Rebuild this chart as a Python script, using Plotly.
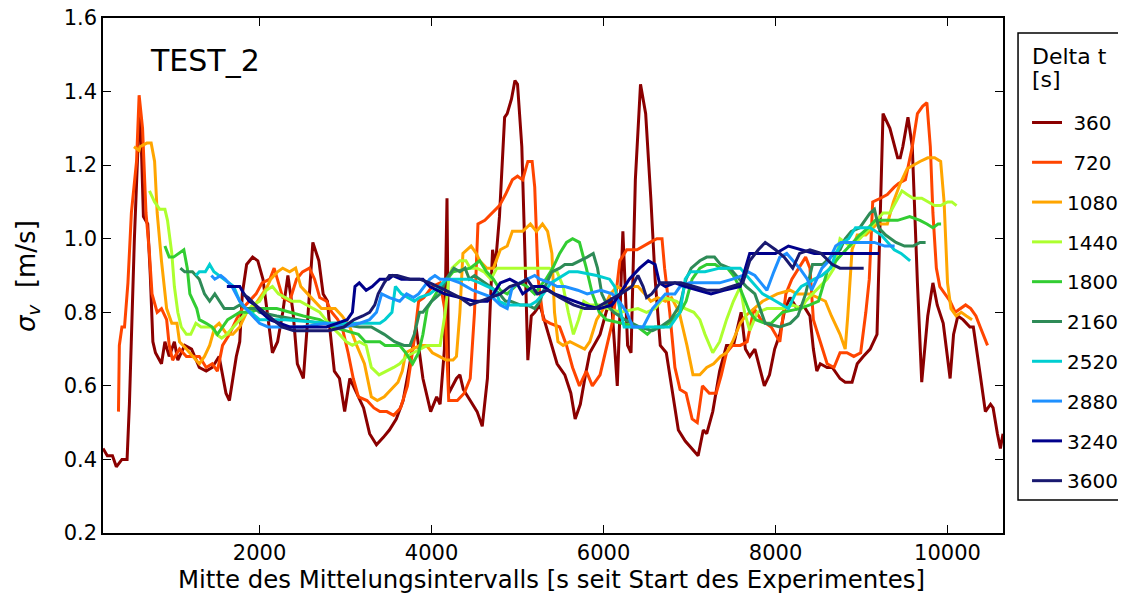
import plotly.graph_objects as go

# ---------------- data ----------------
deltas = [360, 720, 1080, 1440, 1800, 2160, 2520, 2880, 3240, 3600]
colors = ["#8B0000", "#FF4500", "#FFA500", "#ADFF2F", "#32CD32",
          "#2E8B57", "#00CED1", "#1E90FF", "#00008B", "#191970"]

x360 = [180,230,290,335,400,460,487,545,600,620,
        650,700,730,760,790,860,900,950,1010,1050,
        1130,1210,1300,1380,1450,1530,1610,1650,1690,1730,
        1770,1800,1850,1920,1980,2040,2090,2150,2210,2270,
        2330,2390,2440,2510,2560,2620,2690,2740,2790,2820,
        2870,2930,2990,3050,3130,3210,3280,3360,3440,3510,
        3590,3670,3740,3820,3900,3990,4060,4100,4150,4180,
        4200,4290,4330,4370,4450,4530,4590,4650,4680,4710,
        4740,4790,4850,4880,4930,4970,5000,5050,5085,5120,
        5160,5200,5260,5380,5460,5550,5620,5670,5730,5790,
        5840,5960,6030,6090,6160,6225,6280,6320,6370,6430,
        6490,6550,6600,6660,6730,6790,6870,6950,7020,7100,
        7160,7200,7270,7350,7430,7510,7600,7650,7700,7760,
        7870,7930,7990,8050,8110,8170,8250,8320,8400,8440,
        8480,8520,8600,8660,8750,8810,8890,8950,9020,9100,
        9180,9210,9250,9330,9420,9450,9480,9540,9590,9650,
        9700,9770,9830,9880,9950,10030,10070,10120,10180,10260,
        10300,10380,10440,10500,10530,10580,10615,10645]
y360 = [0.43,0.41,0.41,0.38,0.40,0.40,0.55,1.00,1.33,1.30,
        1.06,1.04,0.90,0.72,0.69,0.66,0.72,0.68,0.72,0.67,
        0.71,0.70,0.65,0.64,0.65,0.68,0.58,0.56,0.62,0.68,
        0.72,0.85,0.93,0.95,0.94,0.89,0.80,0.69,0.72,0.80,
        0.90,0.80,0.66,0.62,0.78,0.99,0.94,0.85,0.83,0.75,
        0.64,0.62,0.53,0.62,0.58,0.54,0.47,0.44,0.46,0.48,
        0.51,0.56,0.65,0.76,0.62,0.53,0.57,0.55,0.70,1.11,
        0.58,0.62,0.63,0.59,0.56,0.53,0.49,0.62,0.80,0.97,
        0.92,1.06,1.33,1.34,1.38,1.43,1.42,1.25,0.97,0.67,
        0.79,0.80,0.82,0.72,0.66,0.63,0.58,0.51,0.55,0.63,
        0.69,0.74,0.80,0.84,0.60,1.02,0.71,0.69,1.16,1.42,
        1.34,1.11,0.89,0.71,0.69,0.60,0.48,0.45,0.43,0.41,
        0.48,0.47,0.53,0.64,0.71,0.71,0.80,0.70,0.68,0.70,
        0.60,0.63,0.70,0.74,0.81,0.84,0.81,0.82,0.79,0.70,
        0.64,0.66,0.65,0.65,0.62,0.61,0.61,0.66,0.68,0.70,
        0.74,0.97,1.34,1.30,1.22,1.22,1.25,1.33,1.25,0.88,
        0.61,0.79,0.88,0.82,0.77,0.62,0.74,0.79,0.78,0.76,
        0.76,0.63,0.53,0.55,0.54,0.47,0.43,0.47]

x720 = [360,370,400,430,470,510,570,600,640,680,
        720,750,810,860,920,950,990,1070,1150,1300,
        1380,1450,1510,1570,1650,1730,1800,1880,1960,2030,
        2120,2170,2210,2270,2350,2430,2500,2580,2640,2700,
        2780,2840,2910,2970,3030,3090,3150,3250,3330,3400,
        3480,3560,3640,3720,3790,3850,3910,4010,4100,4160,
        4200,4300,4380,4450,4500,4540,4620,4700,4790,4860,
        4940,5000,5060,5120,5170,5200,5240,5300,5380,5490,
        5570,5640,5720,5800,5870,5960,6040,6110,6190,6270,
        6390,6460,6540,6620,6680,6710,6770,6830,6890,6960,
        7030,7090,7150,7230,7310,7370,7430,7500,7590,7670,
        7750,7830,7950,8050,8120,8190,8270,8350,8400,8440,
        8520,8600,8680,8750,8830,8910,8990,9050,9090,9130,
        9220,9300,9380,9430,9510,9590,9650,9710,9760,9800,
        9830,9870,9910,9970,10030,10090,10150,10210,10270,10330,
        10380,10465]
y720 = [0.53,0.71,0.76,0.76,0.88,1.07,1.21,1.39,1.30,1.07,
        0.96,0.85,0.80,0.81,0.78,0.71,0.67,0.70,0.68,0.68,
        0.65,0.66,0.64,0.71,0.74,0.78,0.81,0.83,0.85,0.88,
        0.89,0.92,0.89,0.84,0.83,0.89,0.91,0.92,0.89,0.84,
        0.83,0.80,0.78,0.75,0.69,0.62,0.57,0.56,0.54,0.53,
        0.53,0.52,0.54,0.60,0.71,0.83,0.84,0.87,0.88,0.80,
        0.56,0.56,0.58,0.62,0.80,1.04,1.05,1.07,1.09,1.12,
        1.16,1.17,1.16,1.21,1.21,1.14,0.89,0.78,0.77,0.76,
        0.71,0.65,0.60,0.64,0.60,0.63,0.71,0.78,0.94,0.97,
        0.97,0.98,0.99,1.00,1.00,0.92,0.80,0.65,0.59,0.58,
        0.51,0.50,0.60,0.58,0.58,0.63,0.69,0.71,0.71,0.72,
        0.81,0.78,0.76,0.72,0.85,0.89,0.92,0.95,0.92,0.78,
        0.72,0.66,0.65,0.69,0.69,0.68,0.69,0.80,0.89,1.10,
        1.11,1.12,1.14,1.15,1.16,1.25,1.34,1.36,1.37,1.25,
        1.07,0.92,0.87,0.85,0.83,0.80,0.81,0.82,0.81,0.79,
        0.76,0.71]

x1080 = [540,600,610,690,740,780,810,860,920,980,
         1040,1070,1150,1220,1300,1360,1420,1480,1530,1620,
         1690,1770,1850,1920,2000,2090,2130,2210,2270,2350,
         2420,2480,2560,2640,2720,2800,2880,2960,3050,3130,
         3220,3300,3370,3450,3530,3610,3660,3700,3780,3860,
         3940,4010,4090,4170,4250,4290,4330,4365,4460,4520,
         4560,4640,4720,4800,4880,4940,5000,5060,5150,5220,
         5290,5350,5400,5430,5470,5530,5610,5700,5780,5840,
         5920,6000,6080,6160,6240,6320,6400,6480,6550,6630,
         6720,6790,6880,6920,6970,7040,7120,7200,7280,7360,
         7430,7500,7590,7650,7850,8020,8170,8250,8400,8580,
         8650,8750,8810,8840,8890,8950,9050,9180,9300,9370,
         9450,9530,9600,9680,9770,9850,9920,9960,10000,10040,
         10100,10160,10220,10285]
y1080 = [1.25,1.24,1.25,1.26,1.26,1.21,1.07,0.94,0.81,0.77,
         0.77,0.72,0.70,0.68,0.66,0.68,0.71,0.76,0.77,0.74,
         0.74,0.76,0.80,0.81,0.84,0.87,0.89,0.91,0.92,0.91,
         0.92,0.87,0.85,0.83,0.81,0.81,0.81,0.79,0.76,0.71,
         0.66,0.57,0.56,0.57,0.59,0.61,0.64,0.69,0.70,0.71,
         0.71,0.69,0.68,0.67,0.67,0.68,0.80,0.96,0.98,0.96,
         0.94,0.92,0.92,0.97,0.98,1.02,1.02,1.02,1.04,1.02,
         1.04,1.02,0.96,0.80,0.72,0.71,0.72,0.71,0.70,0.72,
         0.78,0.81,0.85,0.87,0.86,0.87,0.87,0.85,0.83,0.84,
         0.83,0.84,0.80,0.76,0.71,0.63,0.63,0.65,0.66,0.68,
         0.69,0.72,0.77,0.79,0.83,0.85,0.86,0.85,0.85,0.83,
         0.79,0.74,0.70,0.79,0.97,1.01,1.01,1.04,1.04,1.10,
         1.15,1.19,1.20,1.21,1.22,1.22,1.21,1.10,0.88,0.81,
         0.79,0.80,0.79,0.78]

x1440 = [720,760,780,840,900,930,980,1010,1050,1090,
         1150,1200,1260,1320,1380,1440,1500,1560,1620,1690,
         1770,1850,1920,2000,2080,2150,2220,2300,2380,2470,
         2550,2620,2700,2770,2840,2930,3010,3080,3160,3240,
         3300,3390,3480,3560,3630,3710,3790,3870,3950,4030,
         4100,4160,4200,4240,4330,4400,4450,4530,4610,4690,
         4760,4850,5000,5150,5260,5370,5460,5530,5590,5650,
         5710,5770,5840,5950,6050,6200,6400,6500,6600,6700,
         6850,6950,7050,7120,7180,7270,7350,7430,7510,7590,
         7640,7700,7790,7900,8100,8200,8300,8350,8430,8520,
         8600,8680,8750,8870,8980,9100,9250,9330,9420,9470,
         9530,9600,9700,9780,9850,9920,10000,10050,10105]
y1440 = [1.13,1.11,1.10,1.08,1.08,1.05,0.96,0.87,0.80,0.76,
         0.74,0.74,0.77,0.76,0.76,0.76,0.74,0.73,0.74,0.76,
         0.78,0.80,0.82,0.83,0.86,0.87,0.85,0.84,0.83,0.83,
         0.82,0.81,0.80,0.78,0.76,0.74,0.72,0.71,0.72,0.71,
         0.65,0.63,0.64,0.65,0.66,0.68,0.69,0.70,0.71,0.71,
         0.71,0.80,0.89,0.92,0.94,0.94,0.92,0.92,0.91,0.89,
         0.92,0.92,0.92,0.92,0.92,0.92,0.91,0.87,0.80,0.74,
         0.78,0.83,0.82,0.82,0.81,0.80,0.81,0.80,0.81,0.84,
         0.83,0.81,0.80,0.78,0.74,0.69,0.72,0.78,0.83,0.87,
         0.80,0.75,0.80,0.81,0.81,0.82,0.81,0.83,0.85,0.87,
         0.89,0.92,1.00,0.98,1.00,1.03,1.07,1.07,1.11,1.13,
         1.12,1.11,1.11,1.10,1.09,1.09,1.10,1.10,1.09]

x1800 = [900,950,1000,1060,1120,1160,1190,1270,1300,1380,
         1450,1510,1570,1630,1700,1770,1900,2000,2200,2350,
         2510,2700,2850,3000,3150,3230,3300,3400,3460,3560,
         3630,3700,3780,3850,3900,3950,4100,4180,4250,4450,
         4560,4640,4720,4800,4880,4970,5030,5110,5200,5260,
         5330,5410,5490,5570,5640,5720,5800,5870,5950,6030,
         6200,6400,6510,6600,6700,6810,6890,6960,7030,7120,
         7200,7300,7360,7440,7510,7580,7700,7770,7880,7950,
         8080,8280,8400,8500,8600,8740,8860,8980,9080,9160,
         9280,9420,9560,9680,9760,9830,9890,9925]
y1800 = [0.98,0.95,0.95,0.96,0.97,0.92,0.85,0.81,0.78,0.77,
         0.76,0.74,0.76,0.78,0.79,0.80,0.80,0.81,0.81,0.80,
         0.79,0.78,0.76,0.75,0.74,0.72,0.72,0.72,0.71,0.71,
         0.71,0.69,0.66,0.69,0.74,0.81,0.87,0.89,0.91,0.92,
         0.94,0.91,0.89,0.86,0.85,0.87,0.88,0.87,0.85,0.87,
         0.89,0.92,0.96,0.99,1.00,0.99,0.92,0.85,0.80,0.78,
         0.77,0.76,0.74,0.76,0.76,0.78,0.80,0.83,0.89,0.92,
         0.93,0.93,0.92,0.92,0.90,0.87,0.80,0.78,0.77,0.77,
         0.80,0.81,0.82,0.83,0.91,0.95,0.98,1.01,1.03,1.05,
         1.05,1.05,1.06,1.05,1.04,1.03,1.04,1.04]

x2160 = [1080,1130,1220,1300,1360,1420,1480,1530,1590,1700,
         1770,1850,1950,2000,2200,2450,2700,2900,3160,3300,
         3450,3570,3680,3750,3800,3860,3900,4000,4100,4170,
         4260,4330,4390,4440,4500,4680,4790,4860,4920,5030,
         5110,5200,5260,5320,5400,5490,5550,5640,5730,5810,
         5880,5930,5980,6040,6120,6250,6420,6570,6660,6780,
         6890,6960,7020,7120,7200,7290,7360,7470,7580,7660,
         7760,7880,8050,8170,8260,8350,8430,8550,8640,8750,
         8810,8880,8980,9100,9150,9200,9280,9400,9500,9600,
         9680,9745]
y2160 = [0.92,0.91,0.91,0.89,0.85,0.83,0.85,0.83,0.81,0.81,
         0.82,0.81,0.81,0.80,0.79,0.78,0.77,0.77,0.76,0.76,
         0.74,0.72,0.71,0.71,0.74,0.80,0.80,0.83,0.85,0.89,
         0.92,0.91,0.92,0.89,0.90,0.87,0.85,0.83,0.83,0.82,
         0.82,0.81,0.83,0.87,0.91,0.92,0.93,0.93,0.94,0.95,
         0.96,0.92,0.85,0.82,0.80,0.78,0.76,0.75,0.76,0.78,
         0.82,0.89,0.92,0.94,0.95,0.95,0.93,0.92,0.89,0.87,
         0.85,0.77,0.76,0.77,0.79,0.85,0.93,0.93,0.95,0.97,
         1.00,1.02,1.03,1.07,1.08,1.03,1.01,0.99,0.98,0.98,
         0.99,0.99]

x2520 = [1260,1300,1370,1420,1470,1530,1650,1700,1770,1840,
         1900,2000,2300,2800,3200,3400,3460,3540,3580,3650,
         3800,3860,3980,4090,4170,4280,4450,4560,4740,4790,
         4870,4960,5050,5150,5220,5300,5390,5460,5520,5600,
         5700,5920,6070,6130,6200,6240,6400,6600,6770,6890,
         6950,7010,7180,7350,7500,7590,7700,7780,7850,7930,
         8000,8080,8150,8230,8300,8380,8450,8540,8640,8700,
         8780,8850,8930,9000,9100,9230,9300,9380,9460,9510,
         9565]
y2520 = [0.90,0.91,0.91,0.93,0.91,0.90,0.88,0.87,0.83,0.81,
         0.80,0.78,0.78,0.77,0.77,0.77,0.78,0.80,0.87,0.85,
         0.83,0.84,0.85,0.87,0.89,0.89,0.89,0.88,0.86,0.83,
         0.82,0.82,0.82,0.82,0.83,0.85,0.88,0.89,0.90,0.91,
         0.91,0.90,0.89,0.87,0.80,0.76,0.76,0.76,0.76,0.80,
         0.89,0.91,0.91,0.92,0.92,0.92,0.89,0.87,0.85,0.84,
         0.83,0.82,0.81,0.85,0.87,0.88,0.89,0.90,0.92,0.96,
         0.99,1.00,1.03,1.03,1.03,1.01,0.99,0.97,0.96,0.95,
         0.94]

x2880 = [1440,1480,1550,1600,1680,1770,1840,1920,2000,2100,
         2500,2760,2990,3160,3280,3360,3420,3510,3630,3710,
         3790,3850,3920,3980,4040,4100,4210,4330,4480,4600,
         4710,4800,4880,4940,5030,5110,5200,5260,5380,5460,
         5550,5700,5810,5970,6100,6180,6270,6340,6460,6570,
         6650,6720,6830,6890,7000,7200,7350,7500,7620,7680,
         7760,7830,7900,7980,8050,8130,8200,8280,8370,8420,
         8480,8540,8620,8700,8760,8870,9030,9150,9270,9385]
y2880 = [0.90,0.89,0.90,0.89,0.87,0.83,0.81,0.79,0.77,0.76,
         0.76,0.77,0.76,0.77,0.78,0.80,0.85,0.84,0.83,0.85,
         0.84,0.85,0.87,0.89,0.90,0.89,0.89,0.88,0.86,0.85,
         0.84,0.82,0.81,0.87,0.88,0.89,0.90,0.89,0.88,0.87,
         0.87,0.86,0.85,0.86,0.85,0.83,0.80,0.76,0.76,0.81,
         0.83,0.85,0.85,0.87,0.88,0.88,0.88,0.89,0.90,0.91,
         0.90,0.88,0.86,0.91,0.95,0.96,0.94,0.92,0.89,0.86,
         0.89,0.92,0.94,0.98,0.99,0.99,0.99,0.99,0.98,0.98]

x3240 = [1620,1700,1770,1820,1880,1950,2020,2120,2230,2350,
         2470,2620,2780,2900,3020,3080,3110,3160,3240,3310,
         3400,3500,3550,3650,3750,3830,3900,3980,4150,4330,
         4500,4650,4720,4800,4910,4990,5060,5180,5300,5430,
         5550,5670,5780,5950,6100,6190,6300,6420,6520,6600,
         6650,6720,6830,6950,7100,7250,7400,7590,7650,7700,
         7830,8000,8150,8300,8450,8580,8750,8980,9205]
y3240 = [0.87,0.87,0.87,0.85,0.83,0.82,0.80,0.78,0.77,0.76,
         0.76,0.76,0.76,0.77,0.78,0.80,0.87,0.88,0.86,0.87,
         0.89,0.89,0.90,0.89,0.89,0.89,0.89,0.87,0.85,0.84,
         0.83,0.83,0.85,0.88,0.89,0.88,0.85,0.87,0.87,0.85,
         0.84,0.83,0.82,0.81,0.82,0.85,0.89,0.92,0.94,0.93,
         0.88,0.87,0.88,0.87,0.86,0.85,0.86,0.87,0.92,0.96,
         0.96,0.96,0.98,0.97,0.96,0.96,0.96,0.96,0.96]

x3600 = [1800,1870,1950,2050,2150,2260,2400,2600,2800,2980,
         3100,3200,3280,3340,3380,3450,3510,3600,3750,3860,
         3980,4160,4330,4450,4560,4680,4800,4910,5040,5110,
         5230,5350,5490,5650,5780,5900,6050,6200,6330,6400,
         6460,6500,6560,6660,6770,6900,7050,7200,7350,7500,
         7620,7700,7800,7880,8000,8100,8200,8280,8400,8530,
         8660,8750,8900,9025]
y3600 = [0.85,0.84,0.82,0.80,0.78,0.76,0.75,0.75,0.75,0.76,
         0.78,0.79,0.80,0.82,0.85,0.88,0.90,0.90,0.89,0.89,
         0.88,0.86,0.84,0.82,0.83,0.84,0.85,0.87,0.88,0.89,
         0.85,0.86,0.84,0.82,0.81,0.81,0.83,0.85,0.87,0.90,
         0.87,0.84,0.85,0.88,0.88,0.88,0.87,0.86,0.86,0.87,
         0.88,0.94,0.97,0.99,0.97,0.95,0.92,0.96,0.97,0.96,
         0.93,0.92,0.92,0.92]

xs = [x360, x720, x1080, x1440, x1800, x2160, x2520, x2880, x3240, x3600]
ys = [y360, y720, y1080, y1440, y1800, y2160, y2520, y2880, y3240, y3600]

x_ticks = [2000, 4000, 6000, 8000, 10000]
x_ticktext = ["2000", "4000", "6000", "8000", "10000"]
y_ticks = [0.2, 0.4, 0.6, 0.8, 1.0, 1.2, 1.4, 1.6]
y_ticktext = ["0.2", "0.4", "0.6", "0.8", "1.0", "1.2", "1.4", "1.6"]

FONT = "DejaVu Sans, Verdana, sans-serif"

fig = go.Figure()
for d, c, x, y in zip(deltas, colors, xs, ys):
    label = ("\u00a0" + str(d)) if d < 1000 else str(d)
    fig.add_trace(go.Scatter(x=x, y=y, mode="lines", name=label,
                             legendgroup=str(d),
                             line=dict(color=c, width=3)))

axis_common = dict(showline=True, linecolor="black", linewidth=1.5,
                   mirror="allticks", ticks="inside", ticklen=8,
                   tickwidth=1.2, tickcolor="black", showgrid=False,
                   zeroline=False, automargin=False,
                   ticklabeloverflow="allow",
                   tickfont=dict(size=21, color="black"))

# the page body adds an 8 px offset, so the figure is drawn 8 px smaller
fig.update_layout(
    width=1118, height=586,
    margin=dict(l=95, r=123, t=10, b=61, autoexpand=False),
    paper_bgcolor="white", plot_bgcolor="white",
    font=dict(family=FONT, color="black"),
    xaxis=dict(range=[180, 10645], tickvals=x_ticks, ticktext=x_ticktext,
               **axis_common),
    yaxis=dict(range=[0.2, 1.6], tickvals=y_ticks, ticktext=y_ticktext,
               **axis_common),
    legend=dict(x=1.0267, y=0.835, xanchor="left", yanchor="top",
                bgcolor="rgba(0,0,0,0)", borderwidth=0,
                font=dict(size=20, color="black"),
                tracegroupgap=10.8),
    shapes=[
        dict(type="rect", xref="paper", yref="paper",
             x0=1.0167, x1=1.1356, y0=0.064, y1=0.971,
             line=dict(color="black", width=1.5), fillcolor="white",
             layer="below"),
    ],
    annotations=[
        dict(text="TEST_2", x=0.05, y=0.918, xref="paper", yref="paper",
             xanchor="left", yanchor="middle", showarrow=False,
             font=dict(size=30, color="black")),
        dict(text="<i>σ</i><sub><i>v</i></sub>  [m/s]", textangle=-90,
             x=-0.084, y=0.50, xref="paper", yref="paper",
             xanchor="center", yanchor="middle", showarrow=False,
             font=dict(size=26, color="black")),
        dict(text="Mitte des Mittelungsintervalls [s seit Start des Experimentes]",
             x=0.498, y=-0.091, xref="paper", yref="paper",
             xanchor="center", yanchor="middle", showarrow=False,
             font=dict(size=24.4, color="black")),
        dict(text="Delta t", x=1.03, y=0.926, xref="paper", yref="paper",
             xanchor="left", yanchor="middle", showarrow=False,
             font=dict(size=22, color="black")),
        dict(text="[s]", x=1.03, y=0.881, xref="paper", yref="paper",
             xanchor="left", yanchor="middle", showarrow=False,
             font=dict(size=22, color="black")),
    ],
)

fig.write_html("out.html")
